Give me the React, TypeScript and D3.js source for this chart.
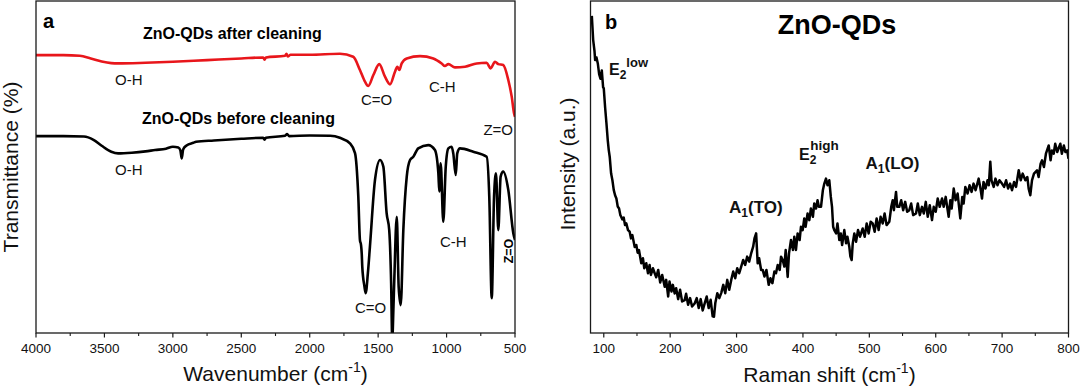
import * as d3 from "d3";

const W = 1080;
const H = 389;
const FONT = "'Liberation Sans', Arial, Helvetica, sans-serif";

// tick labels
const IR_TICKS = [4000, 3500, 3000, 2500, 2000, 1500, 1000, 500];
const IR_MINOR = [3750, 3250, 2750, 2250, 1750, 1250, 750];
const RAMAN_TICKS = [100, 200, 300, 400, 500, 600, 700, 800];
const RAMAN_MINOR = [150, 250, 350, 450, 550, 650, 750];

// FTIR, ZnO-QDs after cleaning  [wavenumber, transmittance]
const IR_AFTER: [number, number][] = [
  [4000, 83.7], [3800, 83.7], [3680, 83.5], [3600, 82.7], [3520, 81.8], [3450, 81.3],
  [3400, 81.2], [3200, 81.4], [3000, 81.7], [2750, 82.2], [2500, 82.7], [2340, 83.0],
  [2330, 82.3], [2320, 83.0], [2180, 83.5], [2170, 84.1], [2160, 83.3], [2140, 83.8],
  [2000, 83.8], [1779, 84.1], [1682, 83.2], [1633, 79.2], [1596, 75.7], [1572, 74.4],
  [1535, 77.7], [1492, 81.0], [1450, 77.2], [1413, 74.9], [1377, 78.7], [1360, 80.2],
  [1345, 79.2], [1328, 81.2], [1291, 82.7], [1194, 83.4], [1097, 82.7], [1036, 81.2],
  [1012, 80.4], [987, 81.0], [939, 80.0], [865, 80.2], [780, 81.2], [707, 81.4],
  [678, 79.7], [646, 81.7], [622, 81.0], [586, 80.7], [549, 76.2], [524, 71.2],
  [507, 66.2], [500, 65.1],
];

// FTIR, ZnO-QDs before cleaning
const IR_BEFORE: [number, number][] = [
  [4000, 59.3], [3800, 59.3], [3650, 59.2], [3580, 58.2], [3520, 56.4], [3450, 54.6],
  [3400, 54.1], [3300, 54.3], [3200, 54.7], [3130, 55.1], [3050, 55.5], [3000, 56.1],
  [2960, 55.9], [2945, 55.0], [2935, 52.6], [2925, 55.3], [2900, 56.5], [2850, 57.3],
  [2830, 57.6], [2700, 58.0], [2500, 58.5], [2340, 58.8], [2330, 58.2], [2320, 58.8],
  [2180, 59.4], [2165, 59.9], [2150, 59.3], [2000, 59.5], [1850, 59.4], [1780, 58.8],
  [1706, 57.1], [1669, 54.2], [1645, 41.1], [1633, 28.0], [1625, 26.5], [1620, 24.0],
  [1616, 20.0], [1600, 14.0], [1591, 12.0], [1575, 18.0], [1560, 26.0], [1523, 46.1],
  [1486, 52.1], [1462, 50.1], [1438, 36.1], [1419, 31.0], [1405, 15.0], [1397, -2.0],
  [1388, 8.0], [1382, 16.0], [1364, 35.0], [1350, 13.9], [1335, 8.4], [1316, 31.0],
  [1291, 47.1], [1267, 52.1], [1243, 53.1], [1207, 55.6], [1134, 56.6], [1085, 55.1],
  [1060, 48.1], [1053, 42.6], [1043, 51.1], [1024, 33.5], [1006, 50.1], [987, 55.6],
  [963, 56.1], [951, 54.1], [933, 47.6], [922, 54.1], [902, 55.6], [805, 54.6],
  [707, 53.1], [688, 41.1], [670, 10.5], [653, 41.1], [639, 48.1], [622, 31.0],
  [605, 47.1], [586, 48.6], [549, 43.1], [512, 30.0], [500, 28.0],
];

// Raman, [shift, intensity]
const RAMAN: [number, number][] = [
  [82, 95.5], [84, 88.3], [86, 85], [87, 82.2], [89, 83], [91, 81.2], [93, 78], [95, 76.6],
  [97, 79.1], [99, 74], [100, 73.7], [102, 68], [104, 63.2], [106, 58], [107.5, 55.1],
  [109, 53], [111, 48.1], [113, 46], [115, 43.1], [117, 41.5], [119, 40.5], [121, 38.1],
  [123, 37.5], [125, 35.5], [126, 35.1], [128, 34.2], [130, 34.8], [132, 32.5], [134, 33],
  [136.5, 31.0], [139, 30.5], [141, 28.5], [143, 29.5], [146.6, 25.9], [149, 26.5],
  [151, 24.2], [153, 25], [156.5, 21.0], [159, 22.5], [161, 19.5], [164, 21], [166.6, 18.0],
  [169, 20.5], [171, 17.5], [174, 19.5], [176.7, 18.0], [179, 16.8], [182, 19], [185, 15.2],
  [188, 17.5], [191.8, 13.9], [194, 16], [197, 11], [199, 15.5], [202, 12.5], [204, 14.5],
  [206.8, 11.9], [209, 13.5], [212, 10.2], [215, 13], [218, 9.5], [221.9, 9.9], [224, 11.8],
  [227, 8.5], [230, 10.5], [233, 8.0], [236.9, 8.9], [240, 10.5], [243, 7.5], [246, 10.2],
  [249, 6.8], [252, 8.9], [255, 11], [258, 7.5], [261, 10], [264, 5.0], [266, 4.9],
  [268, 9], [271, 12], [274, 10.5], [277, 12.1], [280, 14.5], [283, 12], [286, 16],
  [289, 13], [292, 16.0], [295, 18.5], [298, 16.5], [301, 19.5], [304, 18], [307, 20.0],
  [310, 22], [313, 20.5], [316, 23], [319, 21.5], [322, 24.0], [325, 26], [327, 28.5],
  [329.5, 30.0], [331.8, 21.0], [334, 22.5], [337, 19], [339.4, 19.0], [342, 17], [345, 19],
  [348.4, 14.5], [351, 16.5], [354, 15], [357, 18.5], [359.4, 18.0], [362, 20.5], [365, 19],
  [367, 23], [369.5, 22.0], [372, 20], [374, 25], [377, 16.9], [379, 24], [382, 28.0],
  [385, 25], [387, 29], [389.5, 25.0], [392, 30], [395, 28], [397, 32], [399.6, 31.0],
  [402, 34.5], [404, 32], [407, 36], [409.6, 34.0], [412, 37.5], [415, 35], [417, 39],
  [419.7, 37.5], [422, 40], [424, 38], [427.2, 38.0], [430, 43], [432.2, 45.0],
  [434.7, 46.5], [437, 44.5], [439.7, 46.0], [442, 41], [443.8, 38.0], [445.5, 32],
  [447.2, 31.0], [450, 30], [452, 33], [454.8, 28.0], [457, 30], [459, 26.5], [462.3, 31.0],
  [465, 27], [467, 29], [469.8, 26.0], [471.5, 23], [473.4, 22.0], [475, 27], [477.4, 30.0],
  [480, 27.5], [483, 31], [486, 29], [490, 31.5], [493, 29], [496, 33], [499, 30],
  [502, 33.5], [505.1, 33.0], [508, 30.5], [511, 34.5], [514, 31], [517, 35], [520.1, 33.0],
  [523, 36], [526, 32.5], [530.1, 33.5], [533, 38], [535.2, 40.0], [537, 37], [540.2, 42.5],
  [542, 38], [545.1, 38.0], [548, 40], [551, 37], [554, 39.5], [557, 36.5], [560.2, 37.0],
  [563, 39], [566, 35.5], [570.3, 36.0], [573, 39], [576, 35.5], [579.3, 38.0], [582, 36],
  [585, 39.5], [588, 35], [591, 38.5], [594.4, 34.0], [597, 38], [600, 36.5], [603, 40.5],
  [606, 38], [609.5, 40.5], [612, 38], [615, 41], [619.5, 35.0], [622, 40], [624, 37.5],
  [627.1, 43.5], [630, 40], [633, 42], [637, 34.5], [640, 41], [642, 39], [644.6, 44.0],
  [648, 42], [651, 44.5], [654, 42.5], [657, 45], [660, 43], [664.7, 46.5], [667, 44],
  [669.7, 40.5], [672, 45.5], [675, 43.5], [678, 46], [680, 44.5], [682.2, 51.6], [684, 46],
  [687.3, 44.0], [690, 46.5], [693, 44.5], [696, 46], [699.8, 45.0], [703, 44], [706, 46],
  [709, 43.5], [712, 45], [714.9, 43.0], [718, 45.5], [721, 44], [725, 49.0], [728, 46],
  [731, 48], [735, 46.0], [738, 47], [740, 43.5], [742.5, 41.5], [745, 46], [748, 48],
  [752.6, 49.0], [755, 47], [758, 51], [760.1, 52.0], [763, 50], [766, 54], [770.2, 56.5],
  [773, 52], [775, 55], [777.7, 54.0], [780, 57], [783, 54.5], [787.7, 57.0], [790, 54],
  [793, 56.5], [795.3, 54.5], [798, 55], [800, 52.5],
];

const PLOT_TOP = 1;
const PLOT_BOTTOM = 333;

const xIR = d3.scaleLinear().domain([4000, 500]).range([36, 515]);
const xRa = d3.scaleLinear().domain([80, 800]).range([590.5, 1068.5]);
const yVal = d3.scaleLinear().domain([0, 100]).range([PLOT_BOTTOM, PLOT_TOP]);

function Frame({ x0, x1, scale, major, minor }: any) {
  return (
    <g>
      <rect x={x0} y={PLOT_TOP} width={x1 - x0} height={PLOT_BOTTOM - PLOT_TOP}
        fill="none" stroke="#1a1a1a" strokeWidth={1.3} />
      {major.map((t: number) => (
        <g key={"M" + t}>
          <line x1={scale(t)} x2={scale(t)} y1={PLOT_BOTTOM} y2={PLOT_BOTTOM + 4.5}
            stroke="#1a1a1a" strokeWidth={1.2} />
          <text x={scale(t)} y={353} textAnchor="middle" fontSize={13.5} fill="#111">{t}</text>
        </g>
      ))}
      {minor.map((t: number) => (
        <line key={"m" + t} x1={scale(t)} x2={scale(t)} y1={PLOT_BOTTOM} y2={PLOT_BOTTOM + 3}
          stroke="#1a1a1a" strokeWidth={1.1} />
      ))}
    </g>
  );
}

export default function App() {
  const irLine = d3.line<[number, number]>()
    .x(d => xIR(d[0]))
    .y(d => yVal(d[1]))
    .curve(d3.curveMonotoneX);
  const ramanLine = d3.line<[number, number]>()
    .x(d => xRa(d[0]))
    .y(d => yVal(d[1]));

  return (
    <svg width={W} height={H} style={{ position: "absolute", left: 0, top: 0, background: "#fff" }}
      fontFamily={FONT}>
      <defs>
        <clipPath id="clipA"><rect x={36} y={PLOT_TOP} width={479} height={PLOT_BOTTOM - PLOT_TOP} /></clipPath>
        <clipPath id="clipB"><rect x={590.5} y={PLOT_TOP} width={478} height={PLOT_BOTTOM - PLOT_TOP} /></clipPath>
      </defs>

      {/* panel a */}
      <g clipPath="url(#clipA)">
        <path d={irLine(IR_AFTER) || ""} fill="none" stroke="#e8161b" strokeWidth={2.6} strokeLinejoin="round" />
        <path d={irLine(IR_BEFORE) || ""} fill="none" stroke="#000" strokeWidth={2.6} strokeLinejoin="round" />
      </g>
      <Frame x0={36} x1={515} scale={xIR} major={IR_TICKS} minor={IR_MINOR} />
      <text x={43} y={28} fontSize={20} fontWeight="bold">a</text>
      <text x={143} y={38.5} fontSize={16} fontWeight="bold">ZnO-QDs after cleaning</text>
      <text x={142} y={123.5} fontSize={16} fontWeight="bold">ZnO-QDs before cleaning</text>
      <g fontSize={15} fill="#111">
        <text x={115} y={85}>O-H</text>
        <text x={361} y={105}>C=O</text>
        <text x={429} y={91.5}>C-H</text>
        <text x={513} y={135} textAnchor="end">Z=O</text>
        <text x={115} y={175}>O-H</text>
        <text x={355} y={313}>C=O</text>
        <text x={440} y={247}>C-H</text>
      </g>
      <text transform="translate(513,251) rotate(-90)" textAnchor="middle" fontSize={12.5}
        fontWeight="bold">Z=O</text>
      <text transform="translate(18,167) rotate(-90)" textAnchor="middle" fontSize={21} fill="#111">
        Transmittance (%)
      </text>
      <text x={275.5} y={381} textAnchor="middle" fontSize={21} fill="#111">
        Wavenumber (cm<tspan fontSize={14} dy={-9}>-1</tspan><tspan dy={9}>)</tspan>
      </text>

      {/* panel b */}
      <g clipPath="url(#clipB)">
        <path d={ramanLine(RAMAN) || ""} fill="none" stroke="#000" strokeWidth={2.5} strokeLinejoin="round" />
      </g>
      <Frame x0={590.5} x1={1068.5} scale={xRa} major={RAMAN_TICKS} minor={RAMAN_MINOR} />
      <text x={605} y={28.5} fontSize={20} fontWeight="bold">b</text>
      <text x={837} y={33.5} textAnchor="middle" fontSize={27} fontWeight="bold">ZnO-QDs</text>
      <g fontWeight="bold" fill="#111">
        <text x={609} y={75} fontSize={16}>
          E<tspan fontSize={12} dy={4}>2</tspan><tspan fontSize={13} dy={-12}>low</tspan>
        </text>
        <text x={799} y={160} fontSize={16}>
          E<tspan fontSize={12} dy={4}>2</tspan><tspan fontSize={13.5} dx={-6} dy={-14}>high</tspan>
        </text>
        <text x={729} y={213} fontSize={17}>
          A<tspan fontSize={12} dy={4}>1</tspan><tspan dy={-4}>(TO)</tspan>
        </text>
        <text x={865.5} y={168.5} fontSize={17}>
          A<tspan fontSize={12} dy={4}>1</tspan><tspan dy={-4}>(LO)</tspan>
        </text>
      </g>
      <text transform="translate(575,164) rotate(-90)" textAnchor="middle" fontSize={21} fill="#111">
        Intensity (a.u.)
      </text>
      <text x={829.5} y={382} textAnchor="middle" fontSize={21} fill="#111">
        Raman shift (cm<tspan fontSize={14} dy={-9}>-1</tspan><tspan dy={9}>)</tspan>
      </text>
    </svg>
  );
}
